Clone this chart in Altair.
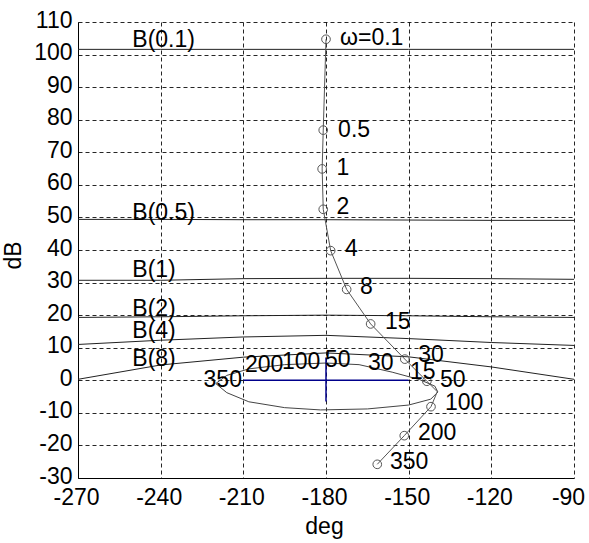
import altair as alt
import pandas as pd

FONT = "Liberation Sans"

# ---- data ----
deg_pts = [-270, -240, -210, -180, -150, -120, -90]
b_names = ["B(0.1)", "B(0.5)", "B(1)", "B(2)", "B(4)", "B(8)"]
b_01 = [101.6, 101.6, 101.6, 101.6, 101.6, 101.6, 101.6]
b_05 = [49.4, 49.4, 49.3, 49.3, 49.2, 49.1, 49.1]
b_1 = [30.7, 30.7, 31.2, 31.3, 31.3, 31.2, 31.0]
b_2 = [19.3, 19.5, 19.8, 20.0, 19.8, 19.5, 19.3]
b_4 = [11.0, 12.3, 13.3, 13.8, 12.8, 11.6, 10.7]
b_8 = [0.3, 4.7, 7.1, 8.4, 7.2, 4.1, 0.3]
b_label_deg = [-250.3, -250.3, -250.3, -250.3, -250.3, -250.3]
b_label_db = [104.4, 51.5, 34.0, 22.0, 15.0, 6.4]

loop_labels = ["ω=0.1", "0.5", "1", "2", "4", "8", "15", "30", "50", "100", "200", "350"]
loop_deg = [-180.0, -181.0, -181.4, -181.0, -178.3, -172.5, -163.8, -151.4, -143.4, -141.9, -151.6, -161.4]
loop_db = [104.7, 76.8, 64.9, 52.5, 39.8, 27.9, 17.3, 6.5, -0.3, -8.1, -17.0, -25.8]
loop_path_deg = [-180.0, -181.0, -181.4, -181.0, -178.3, -172.5, -163.8, -151.4, -143.4, -139.6, -141.9, -151.6, -161.4]
loop_path_db = [104.7, 76.8, 64.9, 52.5, 39.8, 27.9, 17.3, 6.5, -0.3, -3.5, -8.1, -17.0, -25.8]
loop_text_deg = [-174.9, -175.6, -176.2, -176.2, -173.1, -167.7, -158.6, -146.5, -138.6, -136.8, -146.6, -156.8]
loop_text_db = [105.1, 76.8, 65.2, 53.2, 40.3, 28.6, 17.8, 7.8, 0.1, -7.0, -16.2, -25.0]

u_deg = [-220.0, -216.0, -208.0, -195.0, -180.0, -168.0, -156.0, -146.0, -140.5, -139.4, -142.0, -150.0, -165.0, -182.0, -195.0, -208.0, -216.0, -220.0]
u_db = [-1.0, 1.5, 3.5, 4.8, 5.3, 4.8, 2.5, 0.2, -1.8, -3.6, -5.8, -7.6, -8.8, -9.1, -8.4, -6.6, -3.8, -1.0]

tmpl_labels = ["200", "100", "50", "30", "15"]
tmpl_deg = [-209.4, -196.0, -180.4, -164.8, -149.5]
tmpl_db = [4.7, 5.6, 6.2, 5.3, 2.5]
tmpl_left_label = ["350"]
tmpl_left_deg = [-210.5]
tmpl_left_db = [0.1]

cross_h_deg = [-210.0]
cross_h_deg2 = [-150.0]
cross_h_db = [0.0]
cross_v_deg = [-180.0]
cross_v_db = [7.0]
cross_v_db2 = [-6.5]

x_ticks = [-270, -240, -210, -180, -150, -120, -90]
y_ticks = [-30, -20, -10, 0, 10, 20, 30, 40, 50, 60, 70, 80, 90, 100, 110]

# ---- tables ----
rows = []
for name, vals in zip(b_names, [b_01, b_05, b_1, b_2, b_4, b_8]):
    for d, v in zip(deg_pts, vals):
        rows.append({"name": name, "x": d, "y": v})
b_df = pd.DataFrame(rows)
b_lab_df = pd.DataFrame({"x": b_label_deg, "y": b_label_db, "t": b_names})
loop_pts = pd.DataFrame({"x": loop_deg, "y": loop_db})
loop_path = pd.DataFrame({"x": loop_path_deg, "y": loop_path_db, "o": list(range(len(loop_path_deg)))})
loop_txt = pd.DataFrame({"x": loop_text_deg, "y": loop_text_db, "t": loop_labels})
u_df = pd.DataFrame({"x": u_deg, "y": u_db, "o": list(range(len(u_deg)))})
tmpl_df = pd.DataFrame({"x": tmpl_deg, "y": tmpl_db, "t": tmpl_labels})
tmpl_l_df = pd.DataFrame({"x": tmpl_left_deg, "y": tmpl_left_db, "t": tmpl_left_label})
ch_df = pd.DataFrame({"x": cross_h_deg, "x2": cross_h_deg2, "y": cross_h_db})
cv_df = pd.DataFrame({"x": cross_v_deg, "y": cross_v_db, "y2": cross_v_db2})


def X(field="x"):
    return alt.X(
        f"{field}:Q",
        title="deg",
        scale=alt.Scale(domain=[-270, -90], nice=False, zero=False),
        axis=alt.Axis(
            values=x_ticks, grid=True, gridDash=[4, 3], gridColor="#000000", gridOpacity=0.85,
            ticks=False, domainColor="#000000", domainWidth=1,
            labelExpr="toString(datum.value)", labelFlush=False, labelOverlap=False,
            labelFont=FONT, labelFontSize=23, labelColor="#000000", labelPadding=8,
            labelOffset={"condition": {"test": "datum.value == -90", "value": -6}, "value": -2},
            titleFont=FONT, titleFontSize=23, titleFontWeight="normal", titleColor="#000000",
            titleX=246, titleY=37, titleBaseline="top", titleAlign="center",
        ),
    )


def Y(field="y"):
    return alt.Y(
        f"{field}:Q",
        title="dB",
        scale=alt.Scale(domain=[-30, 110], nice=False, zero=False),
        axis=alt.Axis(
            values=y_ticks, grid=True, gridDash=[4, 3], gridColor="#000000", gridOpacity=0.85,
            ticks=False, domainColor="#000000", domainWidth=1,
            labelExpr="toString(datum.value)", labelFlush=False, labelOverlap=False,
            labelFont=FONT, labelFontSize=23, labelColor="#000000", labelPadding=6,
            labelOffset=-2,
            titleFont=FONT, titleFontSize=23, titleFontWeight="normal", titleColor="#000000",
            titleX=-53, titleY=233, titleAngle=-90, titleBaseline="bottom", titleAlign="center",
        ),
    )


b_lines = alt.Chart(b_df).mark_line(color="#222222", strokeWidth=1).encode(
    x=X(), y=Y(), detail="name:N"
)
u_line = alt.Chart(u_df).mark_line(color="#444444", strokeWidth=1).encode(
    x=X(), y=Y(), order="o:Q"
)
cross_h = alt.Chart(ch_df).mark_rule(color="#00008b", strokeWidth=1.5).encode(
    x=X(), x2=alt.X2("x2:Q"), y=Y()
)
cross_v = alt.Chart(cv_df).mark_rule(color="#00008b", strokeWidth=1.5).encode(
    x=X(), y=Y(), y2=alt.Y2("y2:Q")
)
loop_line = alt.Chart(loop_path).mark_line(color="#555555", strokeWidth=1).encode(
    x=X(), y=Y(), order="o:Q"
)
loop_circ = alt.Chart(loop_pts).mark_point(
    shape="circle", filled=False, size=75, color="#555555", strokeWidth=1, opacity=1
).encode(x=X(), y=Y())

txt_kw = dict(font=FONT, fontSize=23, color="#000000", baseline="middle")
b_text = alt.Chart(b_lab_df).mark_text(align="left", **txt_kw).encode(x=X(), y=Y(), text="t:N")
loop_text = alt.Chart(loop_txt).mark_text(align="left", **txt_kw).encode(x=X(), y=Y(), text="t:N")
tmpl_text = alt.Chart(tmpl_df).mark_text(align="left", **txt_kw).encode(x=X(), y=Y(), text="t:N")
tmpl_l_text = alt.Chart(tmpl_l_df).mark_text(align="right", **txt_kw).encode(x=X(), y=Y(), text="t:N")

chart = alt.layer(
    b_lines, u_line, cross_h, cross_v, loop_line, loop_circ,
    b_text, loop_text, tmpl_text, tmpl_l_text,
).properties(
    width=496, height=456,
    padding={"left": 78, "top": 22, "right": 15, "bottom": 65},
    autosize="none",
    background="#ffffff",
).configure_view(stroke=None)

chart.save("out.html", embed_options={"renderer": "svg", "actions": False})
